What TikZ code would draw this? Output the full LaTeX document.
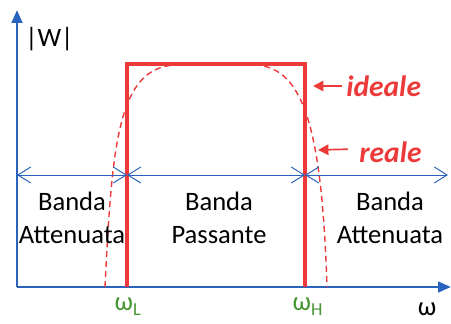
\documentclass[tikz,border=0pt]{standalone}
\usepackage{fontspec}
\setmainfont{Carlito}
\usepackage{tikz}
\usetikzlibrary{arrows.meta}

\definecolor{axisblue}{RGB}{40,100,190}
\definecolor{filtred}{RGB}{236,58,58}
\definecolor{freqgreen}{RGB}{70,150,50}

\begin{document}
\begin{tikzpicture}[x=0.025cm,y=0.025cm,
		lbl/.style={inner sep=0pt,font=\fontsize{18.9pt}{23.5pt}\selectfont},
		band/.style={lbl,align=center},
		tag/.style={lbl,filtred,anchor=west,font=\fontsize{21pt}{23.5pt}\selectfont\bfseries\itshape},
		bandarrow/.style={axisblue,line width=0.7pt,
			{Straight Barb[length=3.2mm,width=4mm]}-{Straight Barb[length=3.2mm,width=4mm]}},
		tagarrow/.style={filtred,line width=1.2pt,-{Triangle[length=2.6mm,width=2.6mm]}}]
			\useasboundingbox (0,0) rectangle (451,323);
			
			% Axes
			\coordinate (O) at (17,36);
			\coordinate (ytip) at (17,313);
			\coordinate (xtip) at (451,36);
			\draw[axisblue,line width=2pt,-{Triangle[length=3.2mm,width=2.6mm]}] (O) -- (ytip);
			\draw[axisblue,line width=2pt,-{Triangle[length=3.2mm,width=2.6mm]}] (O) -- (xtip);
			\node[lbl,anchor=west] (W) at (25,284) {|W|};
			\node[lbl] (om) at (427,14) {ω};
			
			% Cut-off frequencies
			\coordinate (L) at (127,36); % omega_L
			\coordinate (H) at (305,36); % omega_H
			\coordinate (Ltop) at (127,259);
			\coordinate (Htop) at (305,259);
			\node[lbl,freqgreen,anchor=north west,xshift=-9] (omL) at (L|-0,25) {ω\raisebox{-0.35ex}{\fontsize{13pt}{13pt}\selectfont L}};
			\node[lbl,freqgreen,anchor=north west,xshift=-9] (omH) at (H|-0,25) {ω\raisebox{-0.35ex}{\fontsize{13pt}{13pt}\selectfont H}};
			
			% Ideal response
			\draw[filtred,line width=3.5pt,line join=miter] (L) -- (Ltop) -- (Htop) -- (H);
			
			% Real response
			\draw[filtred,line width=1pt,dash pattern=on 1.5mm off 1mm]
				(105,36) .. controls (112,180) and (118,255) .. (175,258)
				-- (255,258) .. controls (305,256) and (322,190) .. (327,36);
			
			% Bands
			\coordinate (b0) at (17,148);
			\coordinate (b1) at (127,148);
			\coordinate (b2) at (305,148);
			\coordinate (b3) at (448,148);
			\draw[bandarrow] (b0) -- (b1);
			\draw[bandarrow] (b1) -- (b2);
			\draw[bandarrow] (b2) -- (b3);
			\node[band] (att1) at (72,105) {Banda\\Attenuata};
			\node[band] (pass) at (219,105) {Banda\\Passante};
			\node[band] (att2) at (390,105) {Banda\\Attenuata};
			
			% Labels
			\node[tag] (ideale) at (346,237) {ideale};
			\node[tag] (reale) at (359,171) {reale};
			\coordinate (idtip) at (313,237);
			\coordinate (retip) at (318,173);
			\draw[tagarrow] ([xshift=-3]ideale.west) -- (idtip);
			\draw[tagarrow] ([xshift=-8,yshift=2]reale.west) -- (retip);
		\end{tikzpicture}
\end{document}
